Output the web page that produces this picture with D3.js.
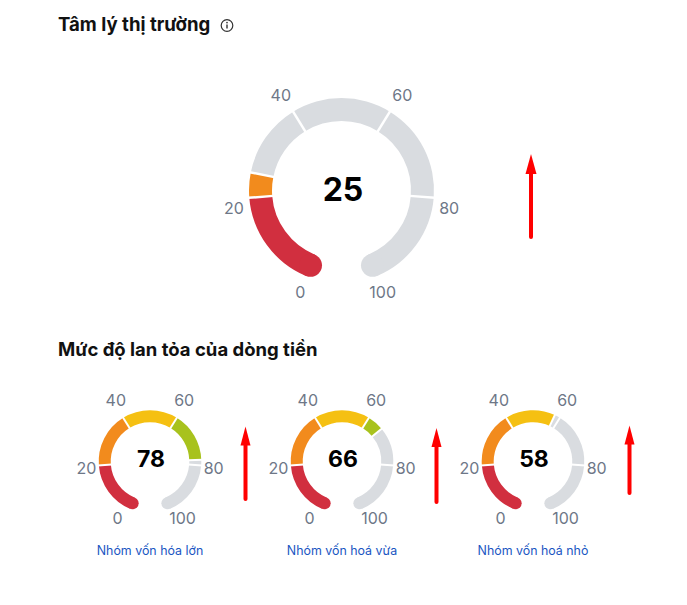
<!DOCTYPE html>
<html><head><meta charset="utf-8">
<script src="https://cdn.jsdelivr.net/npm/d3@7"></script>
<style>
html,body{margin:0;padding:0;background:#fff;}
svg{display:block;font-family:Inter,"Noto Sans",sans-serif;}
</style></head>
<body>
<svg id="c" width="687" height="605"></svg>
<script>
// ---- data ----
const title1 = "Tâm lý thị trường";
const title2 = "Mức độ lan tỏa của dòng tiền";
const mainValue = 25;
const tickValues = [0, 20, 40, 60, 80, 100];
const bandColors = ["#d12f3f", "#f28b1d", "#f5c012", "#a8c21d", "#d9dce0"];
const trackColor = "#d9dce0";
const groupNames = ["Nhóm vốn hóa lớn", "Nhóm vốn hoá vừa", "Nhóm vốn hoá nhỏ"];
const groupValues = [78, 66, 58];

// ---- layout (label placement, polar) ----
const mainLabelR = [110, 109, 113, 113, 109, 110];
const mainLabelA = [-158, -99, -32.5, 32.5, 99, 158];
const smallLabelR = [65, 64, 70.5, 70.5, 64, 65];
const smallLabelA = [-150, -96, -29, 29, 96, 150];

const svg = d3.select("#c");
const deg = Math.PI / 180;
const angle = d3.scaleLinear().domain([0, 100]).range([-157.5 * deg, 157.5 * deg]);

function gauge(g, value, r, thick, labelR, labelA, labelSize, valueSize, valueDx, valueDy) {
  const inner = r - thick;
  const arc = d3.arc().innerRadius(inner).outerRadius(r);
  const pieces = [];
  for (let i = 0; i < 5; i++) {
    const a = tickValues[i], b = tickValues[i + 1];
    if (value >= b) pieces.push({a, b, color: bandColors[i]});
    else if (value > a) {
      pieces.push({a, b: value, color: bandColors[i]});
      pieces.push({a: value, b, color: trackColor});
    } else pieces.push({a, b, color: trackColor});
  }
  g.selectAll("path.seg").data(pieces).join("path")
    .attr("class", "seg")
    .attr("d", d => arc({startAngle: angle(d.a), endAngle: angle(d.b)}))
    .attr("fill", d => d.color);
  // round caps
  const mid = (r + inner) / 2;
  const caps = [{v: 0, color: value > 0 ? bandColors[0] : trackColor}, {v: 100, color: value >= 100 ? bandColors[4] : trackColor}];
  g.selectAll("circle.cap").data(caps).join("circle")
    .attr("class", "cap")
    .attr("cx", d => mid * Math.sin(angle(d.v)))
    .attr("cy", d => -mid * Math.cos(angle(d.v)))
    .attr("r", thick / 2)
    .attr("fill", d => d.color);
  // separators (white)
  const seps = tickValues.slice(1, 5).slice();
  if (value > 0 && value < 100 && seps.indexOf(value) < 0) seps.push(value);
  g.selectAll("line.sep").data(seps).join("line")
    .attr("class", "sep")
    .attr("x1", d => (inner - 1) * Math.sin(angle(d)))
    .attr("y1", d => -(inner - 1) * Math.cos(angle(d)))
    .attr("x2", d => (r + 1) * Math.sin(angle(d)))
    .attr("y2", d => -(r + 1) * Math.cos(angle(d)))
    .attr("stroke", "#fff").attr("stroke-width", thick > 15 ? 2.5 : 2);
  // tick labels
  g.selectAll("text.tick").data(tickValues).join("text")
    .attr("class", "tick")
    .attr("x", (d, i) => labelR[i] * Math.sin(labelA[i] * deg))
    .attr("y", (d, i) => -labelR[i] * Math.cos(labelA[i] * deg))
    .attr("text-anchor", "middle").attr("dominant-baseline", "central")
    .attr("fill", "#6e7787").attr("font-size", labelSize)
    .text(d => d);
  g.append("text").attr("x", valueDx).attr("y", valueDy)
    .attr("text-anchor", "middle").attr("dominant-baseline", "central")
    .attr("font-weight", 700).attr("font-size", valueSize).attr("fill", "#000")
    .text(value);
}

function arrow(x, yTop, yBot, headW, headH) {
  svg.append("line").attr("x1", x).attr("x2", x).attr("y1", yTop + headH - 1).attr("y2", yBot)
    .attr("stroke", "#ff0000").attr("stroke-width", 4).attr("stroke-linecap", "round");
  svg.append("path")
    .attr("d", `M${x},${yTop} L${x + headW / 2},${yTop + headH} L${x - headW / 2},${yTop + headH} Z`)
    .attr("fill", "#ff0000");
}

// titles
svg.append("text").attr("x", 58).attr("y", 31).attr("font-size", 18.6).attr("font-weight", 700)
  .attr("fill", "#111").text(title1);
const info = svg.append("g").attr("transform", "translate(227,25.5)");
info.append("circle").attr("r", 5.8).attr("fill", "none").attr("stroke", "#333").attr("stroke-width", 1.2);
info.append("rect").attr("x", -0.7).attr("y", -1).attr("width", 1.4).attr("height", 4).attr("fill", "#333");
info.append("circle").attr("cy", -2.9).attr("r", 0.85).attr("fill", "#333");

svg.append("text").attr("x", 58).attr("y", 356).attr("font-size", 18.5).attr("font-weight", 700)
  .attr("fill", "#111").text(title2);

// main gauge
gauge(svg.append("g").attr("transform", "translate(341.5,190.5)"), mainValue, 92.5, 23,
  mainLabelR, mainLabelA, 16, 32, 1.5, -1);
arrow(531, 154, 237, 11, 20);

// small gauges
const smallX = [150, 342, 533];
groupValues.forEach((v, i) => {
  const g = svg.append("g").attr("transform", `translate(${smallX[i]},461.5)`);
  gauge(g, v, 51.3, 12, smallLabelR, smallLabelA, 16, 23, 1, -2.5);
  svg.append("text").attr("x", smallX[i]).attr("y", 550).attr("text-anchor", "middle")
    .attr("dominant-baseline", "central")
    .attr("font-size", 12.4).attr("fill", "#1a56c2").text(groupNames[i]);
});
const arrowX = [245.5, 436.5, 629.5];
const arrowTop = [426.5, 428, 425.5];
const arrowBot = [499, 502, 493];
arrowX.forEach((x, i) => arrow(x, arrowTop[i], arrowBot[i], 10, 19));
</script>
</body></html>
